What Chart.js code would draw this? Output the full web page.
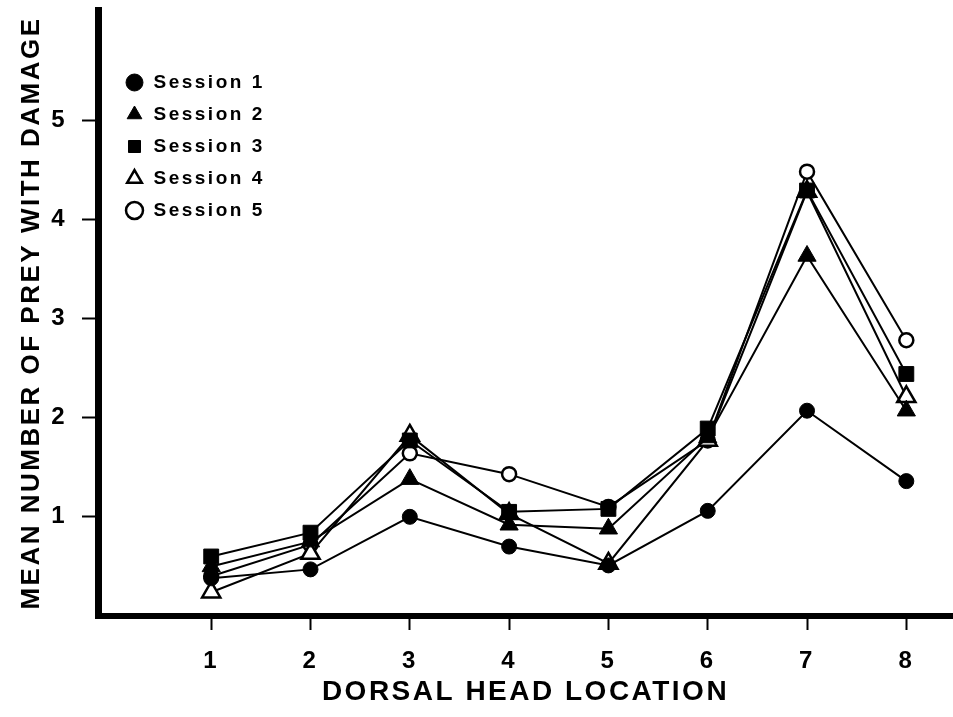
<!DOCTYPE html>
<html>
<head>
<meta charset="utf-8">
<script src="https://cdn.jsdelivr.net/npm/chart.js@4.4.1/dist/chart.umd.min.js"></script>
<style>
  html, body { margin: 0; padding: 0; background: #fff; overflow: hidden; }
  canvas { display: block; }
</style>
</head>
<body>
<canvas id="chart" width="953" height="717"></canvas>
<script>
// dorsal head locations (x) and y axis ticks
const locations = [1, 2, 3, 4, 5, 6, 7, 8];
const yTicks = [1, 2, 3, 4, 5];

// mean number of prey with damage
const session1 = [0.38, 0.47, 1.00, 0.70, 0.51, 1.06, 2.07, 1.36];
const session2 = [0.50, 0.75, 1.38, 0.92, 0.88, 1.80, 3.63, 2.07];
const session3 = [0.60, 0.84, 1.77, 1.05, 1.08, 1.89, 4.29, 2.44];
const session4 = [0.24, 0.63, 1.82, 1.03, 0.53, 1.77, 4.28, 2.21];
const session5 = [0.40, 0.72, 1.64, 1.43, 1.10, 1.77, 4.48, 2.78];

const sessionNames = ['Session 1', 'Session 2', 'Session 3', 'Session 4', 'Session 5'];

const FONT = "'Liberation Sans', Arial, sans-serif";

function series(label, values, shape, filled, radius) {
    return {
        label: label,
        data: values.map((v, i) => ({ x: locations[i], y: v })),
        borderColor: '#000',
        backgroundColor: filled ? '#000' : '#fff',
        borderWidth: 2,
        tension: 0,
        pointStyle: shape,
        pointRadius: radius,
        pointHoverRadius: radius,
        pointBackgroundColor: filled ? '#000' : '#fff',
        pointBorderColor: '#000',
        pointBorderWidth: filled ? 1 : 2.5
    };
}

// letter spacing for the bold, widely tracked lettering of the figure
const tracking = {
    id: 'tracking',
    beforeDraw(chart) { chart.ctx.letterSpacing = '2.5px'; },
    afterDraw(chart) { chart.ctx.letterSpacing = '0px'; }
};

// put the legend in the upper left corner of the plot
const legendSpot = {
    id: 'legendSpot',
    afterLayout(chart) {
        if (chart.legend) {
            chart.legend.left = 112;
            chart.legend.top = 60;
        }
    }
};

// no extra room around the plot for tick labels
function noPad(s) {
    s.paddingTop = 0;
    s.paddingBottom = 0;
    s.paddingLeft = 0;
    s.paddingRight = 0;
}

new Chart(document.getElementById('chart').getContext('2d'), {
    type: 'line',
    data: {
        datasets: [
            series(sessionNames[0], session1, 'circle', true, 7.5),
            series(sessionNames[1], session2, 'triangle', true, 10.5),
            series(sessionNames[2], session3, 'rect', true, 10.5),
            series(sessionNames[3], session4, 'triangle', false, 10.5),
            series(sessionNames[4], session5, 'circle', false, 7)
        ]
    },
    options: {
        responsive: false,
        animation: false,
        layout: { autoPadding: false, padding: { top: 10, right: 0, left: 0, bottom: 0 } },
        plugins: {
            tooltip: { enabled: false },
            legend: {
                position: 'chartArea',
                align: 'start',
                labels: {
                    usePointStyle: true,
                    boxHeight: 12,
                    padding: 13,
                    color: '#000',
                    font: { family: FONT, size: 19, weight: 'bold' }
                }
            }
        },
        scales: {
            x: {
                type: 'linear',
                min: -0.14,
                max: 8.47,
                afterBuildTicks: s => { s.ticks = locations.map(v => ({ value: v })); },
                afterFit: s => { s.height = 101; noPad(s); },
                border: { display: true, color: '#000', width: 6 },
                grid: { display: true, drawOnChartArea: false, drawTicks: true, tickLength: 14, tickWidth: 2, tickColor: '#000' },
                ticks: {
                    color: '#000',
                    padding: 17,
                    maxRotation: 0,
                    font: { family: FONT, size: 24, weight: 'bold' }
                },
                title: {
                    display: true,
                    text: 'DORSAL HEAD LOCATION',
                    color: '#000',
                    padding: { top: 0, bottom: 8 },
                    font: { family: FONT, size: 28, weight: 'bold' }
                }
            },
            y: {
                min: 0,
                max: 6.11,
                afterBuildTicks: s => { s.ticks = yTicks.map(v => ({ value: v })); },
                afterFit: s => { s.width = 98; noPad(s); },
                border: { display: true, color: '#000', width: 7 },
                grid: { display: true, drawOnChartArea: false, drawTicks: true, tickLength: 16, tickWidth: 2, tickColor: '#000' },
                ticks: {
                    color: '#000',
                    padding: 15,
                    font: { family: FONT, size: 24, weight: 'bold' }
                },
                title: {
                    display: true,
                    text: 'MEAN NUMBER OF PREY WITH DAMAGE',
                    color: '#000',
                    padding: { top: 16, bottom: 0 },
                    font: { family: FONT, size: 26, weight: 'bold' }
                }
            }
        }
    },
    plugins: [tracking, legendSpot]
});
</script>
</body>
</html>
